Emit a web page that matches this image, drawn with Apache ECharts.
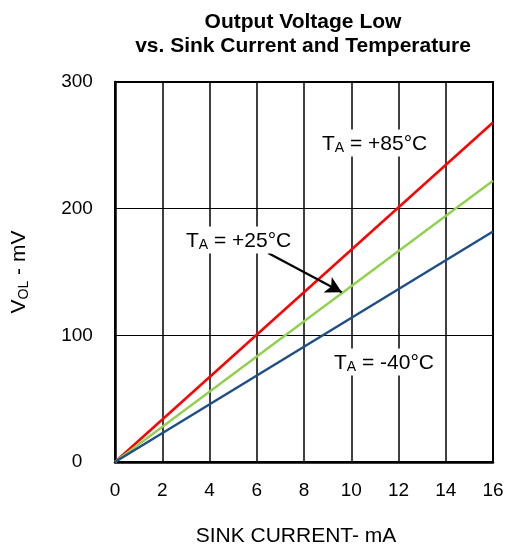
<!DOCTYPE html>
<html>
<head>
<meta charset="utf-8">
<script src="https://cdn.jsdelivr.net/npm/echarts@6/dist/echarts.min.js"></script>
<style>
  html, body { margin: 0; padding: 0; background: #fff; }
  #main { width: 507px; height: 544px; }
</style>
</head>
<body>
<div id="main"></div>
<script>
// sink current in mA
var current = [0, 16];
// VOL in mV at each temperature
var vol85 = [0, 268];
var vol25 = [0, 222];
var volM40 = [0, 182];
// arrow pointing at the +25°C line (data coords)
var arrowFrom = [6.48, 165];
var arrowTo = [9.6, 134];

var font = '"Liberation Sans", Arial, sans-serif';

function pairs(xs, ys) {
  return xs.map(function (x, i) { return [x, ys[i]]; });
}

// label text with a subscript "A", white box behind so the grid is hidden
function tempLabel(txt, x, y) {
  return {
    type: 'text', x: x, y: y, z: 100,
    style: {
      text: 'T{s|A} = ' + txt,
      fontFamily: font, fontSize: 21, fill: '#000',
      verticalAlign: 'middle', align: 'left',
      backgroundColor: '#fff', padding: [3, 3, 1, 3],
      rich: { s: { fontFamily: font, fontSize: 14, fill: '#000', padding: [9, 0, 0, 0] } }
    }
  };
}

var chart = echarts.init(document.getElementById('main'));

var option = {
  animation: false,
  backgroundColor: '#fff',
  textStyle: { fontFamily: font },
  title: {
    text: 'Output Voltage Low\nvs. Sink Current and Temperature',
    left: 298,
    textAlign: 'center',
    top: 5,
    textStyle: { fontFamily: font, fontSize: 21, fontWeight: 'bold', color: '#000', lineHeight: 24 }
  },
  grid: {
    left: 115, top: 82, right: 14, bottom: 82,
    outerBoundsMode: 'none', containLabel: false,
    show: true, borderColor: '#000', borderWidth: 2
  },
  xAxis: {
    type: 'value',
    min: 0, max: 16, interval: 2,
    name: 'SINK CURRENT- mA',
    nameLocation: 'middle',
    nameGap: 64,
    nameTextStyle: { fontFamily: font, fontSize: 21, color: '#000', padding: [0, 16, 0, 0] },
    axisLine: { show: true, lineStyle: { color: '#000', width: 2.5 } },
    axisTick: { show: false },
    axisLabel: { fontFamily: font, fontSize: 19, color: '#000', margin: 19 },
    splitLine: { show: true, lineStyle: { color: '#000', width: 1.5 } }
  },
  yAxis: {
    type: 'value',
    min: 0, max: 300, interval: 100,
    name: 'V{sub|OL} - mV',
    nameLocation: 'middle',
    nameGap: 84,
    nameTextStyle: {
      fontFamily: font, fontSize: 21, color: '#000',
      rich: { sub: { fontFamily: font, fontSize: 14, color: '#000', padding: [9, 0, 0, 0] } }
    },
    axisLine: { show: true, lineStyle: { color: '#000', width: 2.5 } },
    axisTick: { show: false },
    axisLabel: { fontFamily: font, fontSize: 19, color: '#000', margin: 38, align: 'center' },
    splitLine: { show: true, lineStyle: { color: '#000', width: 1.2 } }
  },
  series: [
    {
      name: '+85°C', type: 'line', data: pairs(current, vol85),
      symbol: 'none', lineStyle: { color: '#ff0000', width: 2.5 }
    },
    {
      name: '+25°C', type: 'line', data: pairs(current, vol25),
      symbol: 'none', lineStyle: { color: '#92d050', width: 2.5 },
      markLine: {
        silent: true,
        symbol: ['none', 'arrow'],
        symbolSize: [13, 16],
        label: { show: false },
        lineStyle: { color: '#000', width: 2.2, type: 'solid' },
        data: [[{ coord: arrowFrom }, { coord: arrowTo }]]
      }
    },
    {
      name: '-40°C', type: 'line', data: pairs(current, volM40),
      symbol: 'none', lineStyle: { color: '#1f4e89', width: 2.5 }
    }
  ],
  graphic: [
    tempLabel('+85°C', 319, 143),
    tempLabel('+25°C', 183, 240),
    tempLabel('-40°C', 331, 362)
  ]
};

chart.setOption(option);
</script>
</body>
</html>
